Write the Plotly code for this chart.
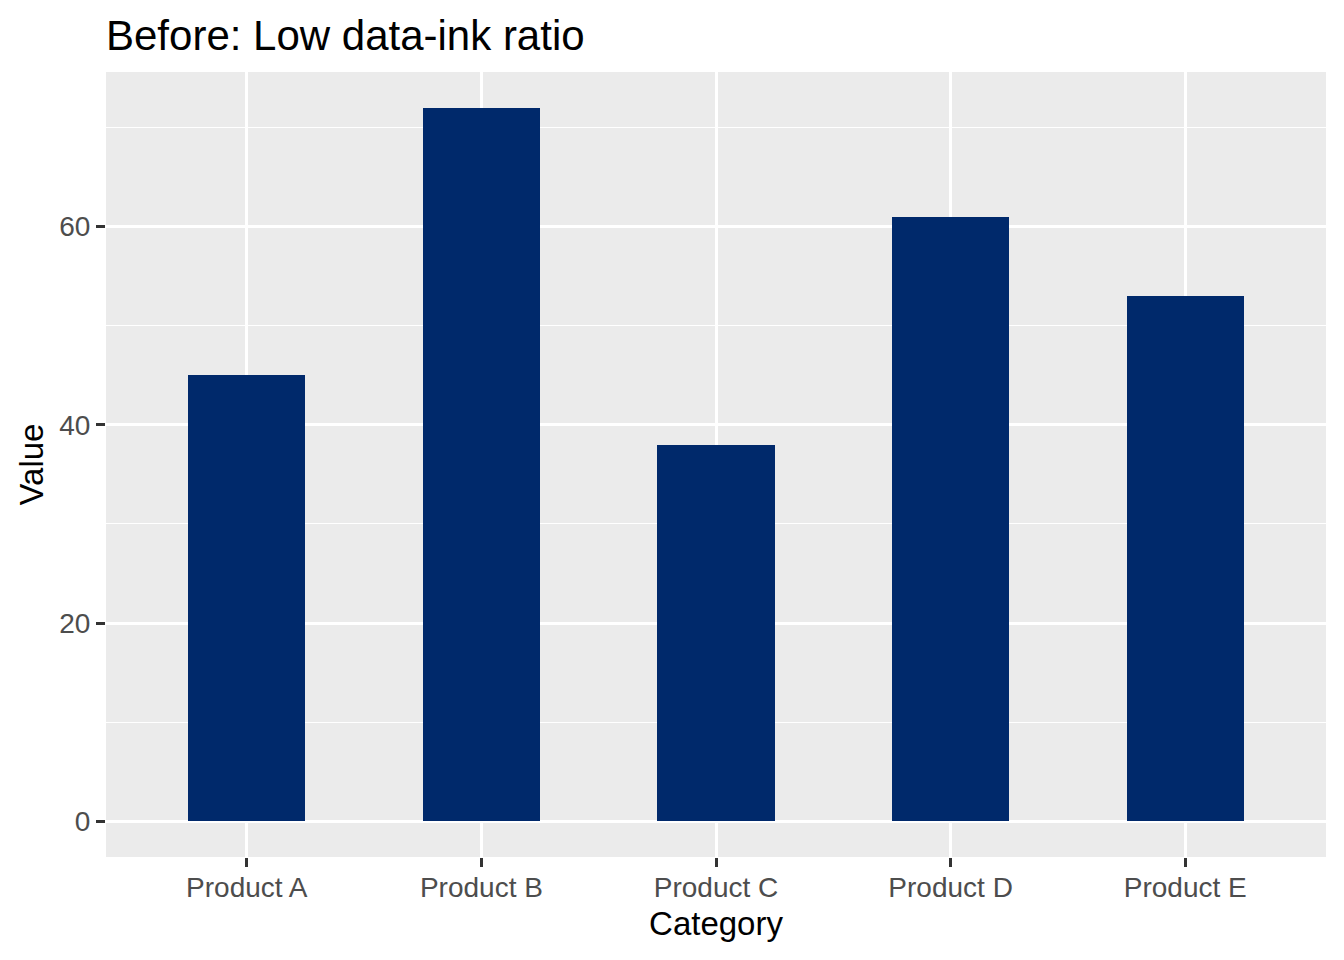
import plotly.graph_objects as go

categories = ["Product A", "Product B", "Product C", "Product D", "Product E"]
values = [45, 72, 38, 61, 53]
y_ticks = [0, 20, 40, 60]

W, H = 1328, 944

fig = go.Figure()
fig.add_trace(go.Bar(
    x=list(range(1, len(categories) + 1)),
    y=values,
    width=0.5,
    marker=dict(color="#00296B", line=dict(width=0)),
))

FONT = "Liberation Sans, Arial, sans-serif"

fig.update_layout(
    width=W, height=H,
    margin=dict(l=98, r=10, t=64, b=95),
    paper_bgcolor="white",
    plot_bgcolor="#EBEBEB",
    showlegend=False,
    font=dict(family=FONT, color="black"),
    title=dict(
        text="Before: Low data-ink ratio",
        x=98 / W, xref="container", xanchor="left",
        y=1 - 27 / H, yref="container", yanchor="middle",
        font=dict(size=42, color="black", family=FONT),
    ),
    bargap=0,
)

fig.update_xaxes(
    range=[0.4, 5.6],
    tickmode="array",
    tickvals=list(range(1, len(categories) + 1)),
    ticktext=categories,
    showgrid=True, gridcolor="white", gridwidth=2.5,
    zeroline=False, showline=False,
    ticks="outside", ticklen=9, tickwidth=2.5, tickcolor="#333333",
    ticklabelstandoff=-4,
    tickfont=dict(size=28, color="#4D4D4D", family=FONT),
    title=dict(text="Category", font=dict(size=33, color="black", family=FONT), standoff=10),
    fixedrange=True,
)

fig.update_yaxes(
    range=[-3.6, 75.6],
    tickmode="array",
    tickvals=y_ticks,
    ticktext=[str(v) for v in y_ticks],
    showgrid=True, gridcolor="white", gridwidth=2.5,
    minor=dict(tickmode="array", tickvals=[10, 30, 50, 70], showgrid=True,
               gridcolor="white", gridwidth=1.2, ticks=""),
    zeroline=False, showline=False,
    ticks="outside", ticklen=9, tickwidth=2.5, tickcolor="#333333",
    tickfont=dict(size=28, color="#4D4D4D", family=FONT),
    title=dict(text="Value", font=dict(size=33, color="black", family=FONT), standoff=5),
    fixedrange=True,
)

fig.write_html("out.html")
